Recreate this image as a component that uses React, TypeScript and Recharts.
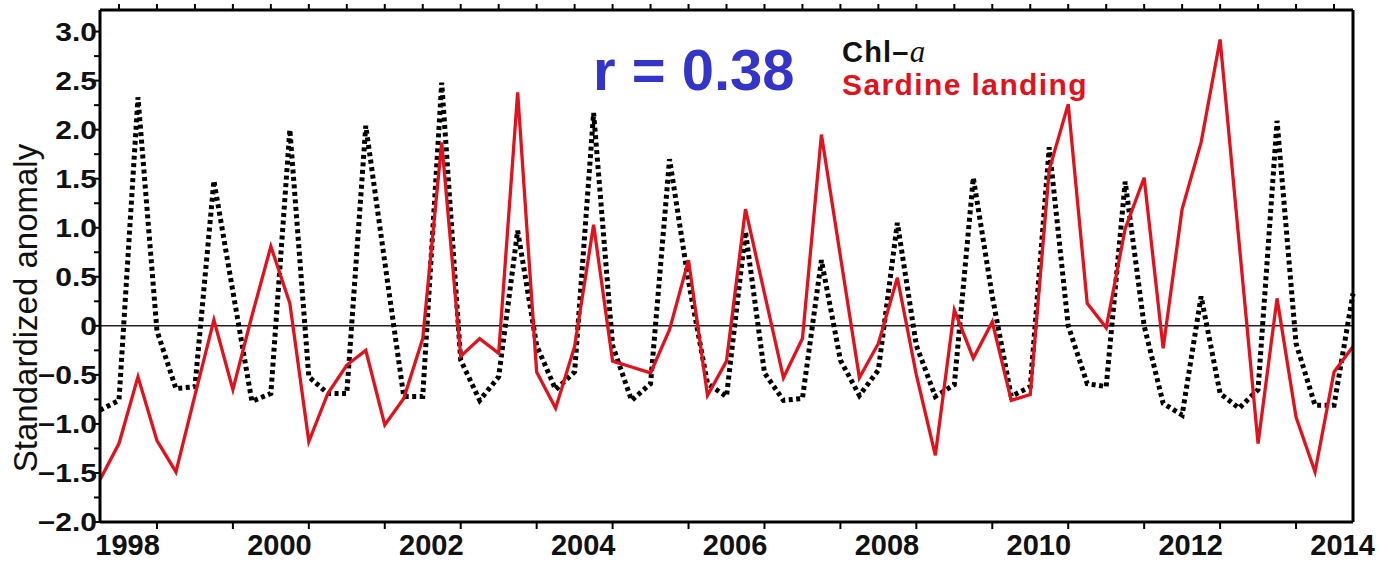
import React from 'react';
import { LineChart, Line, XAxis, YAxis, ReferenceLine } from 'recharts';

// Quarterly standardized anomalies (1998 Q1 .. 2014 Q3)
const chlA = [
  -0.86, -0.76, 2.33, -0.05, -0.64, -0.62, 1.48, 0.35, -0.77, -0.69, 2.0, -0.52,
  -0.69, -0.69, 2.04, 0.65, -0.72, -0.72, 2.48, -0.35, -0.76, -0.52, 0.97, -0.2,
  -0.65, -0.47, 2.17, -0.2, -0.76, -0.59, 1.7, 0.45, -0.59, -0.72, 0.96, -0.48,
  -0.76, -0.74, 0.67, -0.35, -0.71, -0.45, 1.05, -0.2, -0.72, -0.6, 1.51, 0.3,
  -0.72, -0.62, 1.82, 0.0, -0.59, -0.62, 1.47, 0.0, -0.79, -0.91, 0.3, -0.69,
  -0.84, -0.65, 2.09, -0.18, -0.81, -0.81, 0.33,
];
const sardine = [
  -1.57, -1.2, -0.52, -1.17, -1.49, -0.71, 0.06, -0.65, 0.1, 0.81, 0.23, -1.18,
  -0.69, -0.4, -0.25, -1.01, -0.74, -0.13, 1.87, -0.31, -0.13, -0.28, 2.38, -0.47,
  -0.84, -0.21, 1.03, -0.36, -0.42, -0.48, -0.04, 0.67, -0.71, -0.36, 1.19, 0.33,
  -0.53, -0.13, 1.95, 0.71, -0.53, -0.18, 0.49, -0.5, -1.32, 0.16, -0.33, 0.04,
  -0.76, -0.7, 1.59, 2.26, 0.23, -0.02, 0.99, 1.51, -0.23, 1.19, 1.87, 2.92,
  0.85, -1.2, 0.28, -0.93, -1.49, -0.47, -0.21,
];
const yearLabels = ['1998', '2000', '2002', '2004', '2006', '2008', '2010', '2012', '2014'];
const yTicks = [
  -2, -1.75, -1.5, -1.25, -1, -0.75, -0.5, -0.25, 0, 0.25, 0.5, 0.75, 1, 1.25,
  1.5, 1.75, 2, 2.25, 2.5, 2.75, 3,
];
const bottomTickQuarters = [3, 7, 11, 15, 19, 23, 27, 31, 35, 39, 43, 47, 51, 55, 59, 63];
const topTickQuarters = [
  1, 3, 5, 7, 9, 11, 13, 15, 17, 19, 21, 23, 25, 27, 29, 31, 33, 35, 37, 39, 41, 43,
  45, 47, 49, 51, 53, 55, 57, 59, 61, 63, 65,
];
const labelOffset = 1.45; // quarter index where the first year label sits

const data = chlA.map((c, i) => ({ q: i, chl: c, sardine: sardine[i] }));
const labelPos: Record<string, string> = {};
yearLabels.forEach((y) => {
  labelPos[((parseInt(y, 10) - 1998) * 4 + labelOffset).toFixed(2)] = y;
});
const bottomTicks = [
  ...bottomTickQuarters,
  ...yearLabels.map((y) => (parseInt(y, 10) - 1998) * 4 + labelOffset),
].sort((a, b) => a - b);

const FONT = '"Liberation Sans", Arial, Helvetica, sans-serif';

const fmtY = (v: number) => {
  if (Math.abs(v) < 1e-9) return '0';
  const s = Math.abs(v).toFixed(1);
  return v < 0 ? '\u2212' + s : s;
};

const LeftTick = (props: any) => {
  const { x, y, payload } = props;
  const v = payload.value as number;
  const major = Math.abs(v * 2 - Math.round(v * 2)) < 1e-6;
  return (
    <g>
      <line x1={x} x2={x - 6} y1={y} y2={y} stroke="#000" strokeWidth={2} />
      {major && (
        <text
          transform={`translate(${x - 3},${y + 9}) scale(1.2,1)`}
          textAnchor="end"
          fontFamily={FONT}
          fontWeight="bold"
          fontSize={25}
          fill="#111"
        >
          {fmtY(v)}
        </text>
      )}
    </g>
  );
};

const RightTick = (props: any) => {
  const { x, y } = props;
  return <line x1={x} x2={x + 6} y1={y} y2={y} stroke="#000" strokeWidth={2} />;
};

const TopTick = (props: any) => {
  const { x, y } = props;
  return <line x1={x} x2={x} y1={y} y2={y - 6} stroke="#000" strokeWidth={2} />;
};

const BottomTick = (props: any) => {
  const { x, y, payload } = props;
  const key = (payload.value as number).toFixed(2);
  const label = labelPos[key];
  if (label) {
    return (
      <text
        x={x}
        y={555}
        textAnchor="middle"
        fontFamily={FONT}
        fontWeight="bold"
        fontSize={29}
        fill="#111"
      >
        {label}
      </text>
    );
  }
  return <line x1={x} x2={x} y1={y} y2={y + 7} stroke="#000" strokeWidth={2} />;
};

export default function App() {
  return (
    <div style={{ position: 'absolute', left: 0, top: 0, width: 1382, height: 562, background: '#fff' }}>
      <LineChart
        width={1382}
        height={562}
        data={data}
        margin={{ top: 0, right: 0, bottom: 0, left: 0 }}
      >
        <XAxis
          xAxisId="bottom"
          dataKey="q"
          type="number"
          domain={[0, 66]}
          ticks={bottomTicks}
          interval={0}
          orientation="bottom"
          height={40}
          tickSize={0}
          tickMargin={0}
          tickLine={false}
          axisLine={{ stroke: '#000', strokeWidth: 3 }}
          tick={<BottomTick />}
        />
        <XAxis
          xAxisId="top"
          dataKey="q"
          type="number"
          domain={[0, 66]}
          ticks={topTickQuarters}
          interval={0}
          orientation="top"
          height={10}
          tickSize={0}
          tickMargin={0}
          tickLine={false}
          axisLine={{ stroke: '#000', strokeWidth: 3 }}
          tick={<TopTick />}
        />
        <YAxis
          yAxisId="left"
          type="number"
          domain={[-2, 3.22]}
          ticks={yTicks}
          interval={0}
          width={100}
          tickSize={0}
          tickMargin={0}
          tickLine={false}
          axisLine={{ stroke: '#000', strokeWidth: 3 }}
          tick={<LeftTick />}
        />
        <YAxis
          yAxisId="right"
          orientation="right"
          type="number"
          domain={[-2, 3.22]}
          ticks={yTicks}
          interval={0}
          width={29}
          tickSize={0}
          tickMargin={0}
          tickLine={false}
          axisLine={{ stroke: '#000', strokeWidth: 3 }}
          tick={<RightTick />}
        />
        <ReferenceLine xAxisId="bottom" yAxisId="left" y={0} stroke="#222" strokeWidth={1.5} />
        <Line
          xAxisId="bottom"
          yAxisId="left"
          type="linear"
          dataKey="chl"
          stroke="#000"
          strokeWidth={5}
          strokeDasharray="4 3.5"
          dot={false}
          activeDot={false}
          isAnimationActive={false}
          name="Chl-a"
        />
        <Line
          xAxisId="bottom"
          yAxisId="left"
          type="linear"
          dataKey="sardine"
          stroke="#e2121c"
          strokeWidth={3.3}
          dot={false}
          activeDot={false}
          isAnimationActive={false}
          name="Sardine landing"
        />
      </LineChart>
      <svg
        width={1382}
        height={562}
        style={{ position: 'absolute', left: 0, top: 0, pointerEvents: 'none' }}
      >
        <text
          transform="translate(37,308) rotate(-90)"
          textAnchor="middle"
          fontFamily={FONT}
          fontSize={33}
          fill="#111"
        >
          Standardized anomaly
        </text>
        <text x={593} y={90} fontFamily={FONT} fontWeight="bold" fontSize={58} fill="#3434c8">
          r = 0.38
        </text>
        <text x={842} y={62} fontFamily={FONT} fontWeight="bold" fontSize={29} fill="#111" letterSpacing={1.2}>
          Chl–
          <tspan fontFamily='"Liberation Serif", "DejaVu Serif", serif' fontStyle="italic" fontWeight="normal" fontSize={31}>
            a
          </tspan>
        </text>
        <text x={842} y={95} fontFamily={FONT} fontWeight="bold" fontSize={30} fill="#e2121c" letterSpacing={1.4}>
          Sardine landing
        </text>
      </svg>
    </div>
  );
}
